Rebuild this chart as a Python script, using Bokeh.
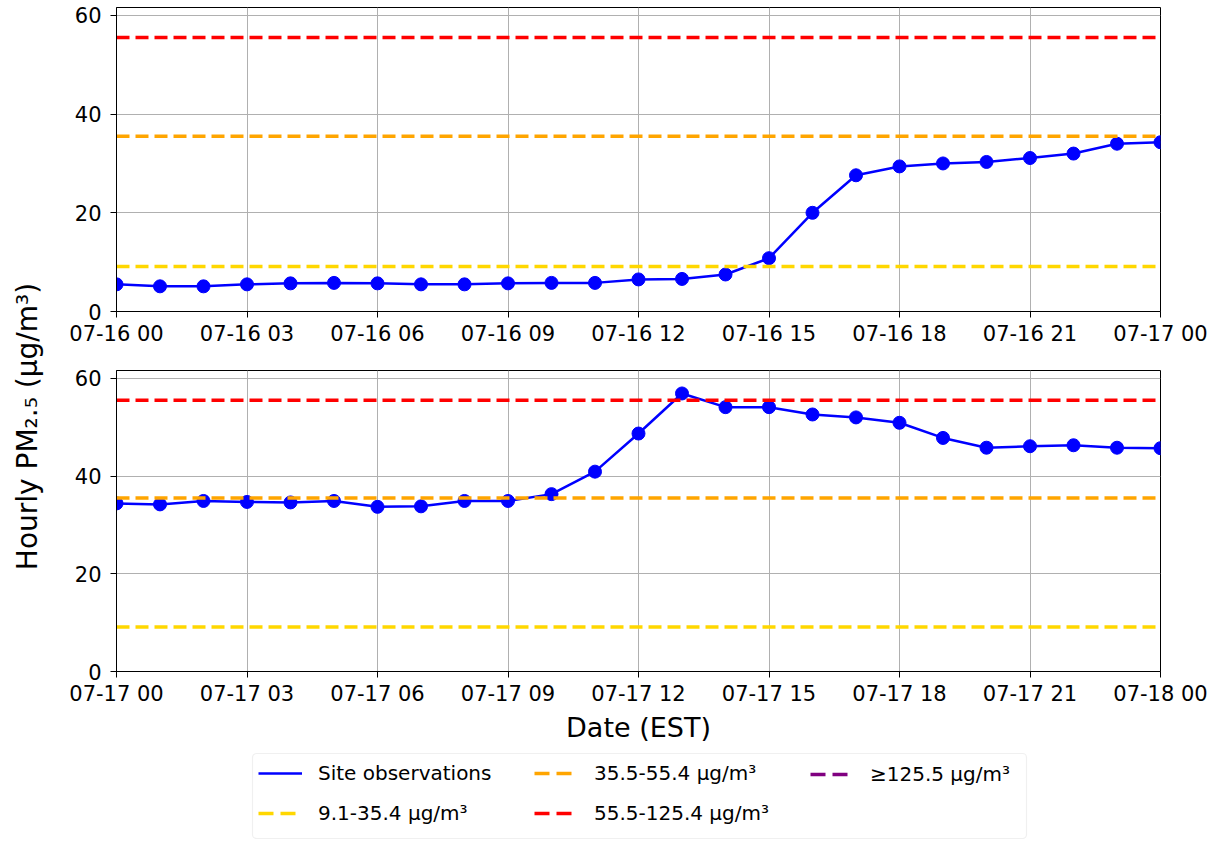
import pandas as pd
from math import pi
from bokeh.plotting import figure
from bokeh.models import (Range1d, FixedTicker, DatetimeTickFormatter, Legend,
                          LegendItem, Label, BoxAnnotation)
from bokeh.layouts import row, column
from bokeh.embed import file_html
from bokeh.resources import INLINE

# ---------------- data ----------------
day1_times = pd.date_range("2024-07-16 00:00", periods=25, freq="h")
day2_times = pd.date_range("2024-07-17 00:00", periods=25, freq="h")

day1_pm25 = [5.5, 5.1, 5.1, 5.5, 5.7, 5.8, 5.7, 5.5, 5.5, 5.7, 5.8, 5.8, 6.5,
             6.6, 7.5, 10.8, 20.0, 27.6, 29.4, 30.0, 30.3, 31.1, 32.0, 34.0, 34.3]
day2_pm25 = [34.4, 34.2, 34.9, 34.7, 34.6, 34.9, 33.7, 33.8, 34.9, 34.9, 36.3,
             40.9, 48.7, 56.9, 54.1, 54.1, 52.6, 52.0, 50.9, 47.8, 45.8, 46.1,
             46.3, 45.8, 45.7]

threshold_values = [9.1, 35.5, 55.5, 125.5]
threshold_labels = ["9.1-35.4 μg/m³", "35.5-55.4 μg/m³", "55.5-125.4 μg/m³",
                    "≥125.5 μg/m³"]
threshold_colors = ["#FFD700", "#FFA500", "#FF0000", "#800080"]

obs_label = "Site observations"
x_label = "Date (EST)"
y_label = "Hourly PM₂.₅ (μg/m³)"
y_ticks = [0, 20, 40, 60]
y_max = 61.6

FONT = "DejaVu Sans"
LEFT_W = 48
FRAME_W = 1044
BORDER_L = 68
BORDER_R = 55


def make_panel(times, values, bottom):
    tick_ms = (times[::3].astype("int64") // 10**6).tolist()
    p = figure(x_axis_type="datetime",
               frame_width=FRAME_W, frame_height=301 if bottom else 304,
               x_range=Range1d(times[0], times[-1]),
               y_range=Range1d(0, y_max),
               toolbar_location=None, output_backend="svg",
               min_border_left=BORDER_L, min_border_right=BORDER_R,
               min_border_top=22 if bottom else 7,
               min_border_bottom=76 if bottom else 36,
               background_fill_color="white", border_fill_color="white")
    p.xaxis.ticker = FixedTicker(ticks=tick_ms)
    fmt = "%m-%d %H"
    p.xaxis.formatter = DatetimeTickFormatter(
        microseconds=fmt, milliseconds=fmt, seconds=fmt, minsec=fmt,
        minutes=fmt, hourmin=fmt, hours=fmt, days=fmt, months=fmt, years=fmt)
    p.yaxis.ticker = FixedTicker(ticks=y_ticks)

    for ax in (p.xaxis, p.yaxis):
        ax.axis_line_color = "black"
        ax.major_tick_line_color = "black"
        ax.major_tick_out = 6
        ax.major_tick_in = 0
        ax.minor_tick_line_color = None
        ax.major_label_text_font = FONT
        ax.major_label_text_font_size = "21px"
        ax.major_label_text_color = "black"
    p.xaxis.major_label_standoff = 4
    p.yaxis.major_label_standoff = 9

    p.grid.grid_line_color = "#b0b0b0"
    p.grid.grid_line_width = 1
    p.outline_line_color = "black"
    p.outline_line_width = 1
    p.outline_line_alpha = 1

    p.line(times, values, line_color="blue", line_width=2.5)
    p.scatter(times, values, size=13, color="blue")

    for v, c in zip(threshold_values, threshold_colors):
        p.line([times[0], times[-1]], [v, v], line_color=c,
               line_width=3.5, line_dash="13 6")

    if bottom:
        p.xaxis.axis_label = x_label
        p.xaxis.axis_label_text_font = FONT
        p.xaxis.axis_label_text_font_size = "27px"
        p.xaxis.axis_label_text_font_style = "normal"
        p.xaxis.axis_label_text_color = "black"
        p.xaxis.axis_label_standoff = 3
    return p


top = make_panel(day1_times, day1_pm25, bottom=False)
bot = make_panel(day2_times, day2_pm25, bottom=True)

# ---------------- legend panel ----------------
LEG_H = 92
leg = figure(frame_width=FRAME_W, frame_height=LEG_H, toolbar_location=None,
             output_backend="svg", x_range=Range1d(0, FRAME_W),
             y_range=Range1d(0, LEG_H),
             min_border_left=BORDER_L, min_border_right=BORDER_R,
             min_border_top=0, min_border_bottom=0,
             x_axis_location=None, y_axis_location=None)
leg.grid.visible = False
leg.outline_line_color = None
leg.add_layout(BoxAnnotation(left=136, right=910, bottom=1, top=86,
                             fill_color="white", fill_alpha=0.8,
                             line_color="#cccccc", line_width=1.2,
                             border_radius=4, level="underlay"))

nan = float("nan")
obs_r = leg.line(x=[nan], y=[nan], line_color="blue", line_width=2.5)
thr_r = [leg.line(x=[nan], y=[nan], line_color=c, line_width=3.5,
                  line_dash="15 7") for c in threshold_colors]

legend_cols = [
    [(obs_label, obs_r), (threshold_labels[0], thr_r[0])],
    [(threshold_labels[1], thr_r[1]), (threshold_labels[2], thr_r[2])],
    [(threshold_labels[3], thr_r[3])],
]
col_x = [142, 418, 694]
for items, x0 in zip(legend_cols, col_x):
    y0 = 14 if len(items) == 2 else 53
    lg = Legend(items=[LegendItem(label=lab, renderers=[r]) for lab, r in items],
                location=(x0, y0), orientation="vertical",
                label_text_font=FONT, label_text_font_size="20px",
                label_text_color="black",
                glyph_width=44, glyph_height=20, label_standoff=16,
                padding=0, spacing=16, margin=0,
                border_line_color=None, background_fill_alpha=0)
    leg.add_layout(lg, "center")

# ---------------- y label panel ----------------
total_h = 838
lab_fig = figure(width=LEFT_W, height=total_h, toolbar_location=None,
                 output_backend="svg", x_range=Range1d(0, LEFT_W),
                 y_range=Range1d(0, total_h), min_border=0,
                 x_axis_location=None, y_axis_location=None)
lab_fig.outline_line_color = None
lab_fig.grid.visible = False
lab_fig.add_layout(Label(x=27, y=total_h - 426, text=y_label, angle=pi / 2,
                         text_align="center", text_baseline="middle",
                         text_font=FONT, text_font_size="28px",
                         text_color="black"))

layout = row(lab_fig, column(top, bot, leg))
open("out.html", "w").write(file_html(layout, INLINE))
